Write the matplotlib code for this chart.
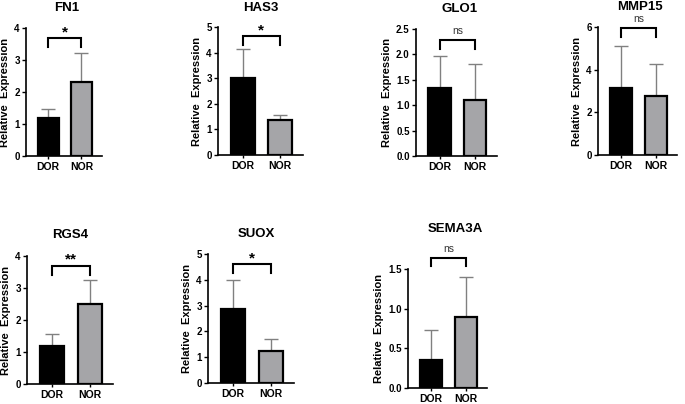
import numpy as np
import matplotlib.pyplot as plt

plt.rcParams['font.family'] = ['Liberation Sans', 'DejaVu Sans']
plt.rcParams['font.weight'] = 'bold'

groups = ['DOR', 'NOR']
genes = ['FN1', 'HAS3', 'GLO1', 'MMP15', 'RGS4', 'SUOX', 'SEMA3A']
means = {
    'FN1': [1.2, 2.3],
    'HAS3': [3.0, 1.35],
    'GLO1': [1.33, 1.1],
    'MMP15': [3.15, 2.75],
    'RGS4': [1.2, 2.5],
    'SUOX': [2.85, 1.25],
    'SEMA3A': [0.35, 0.9],
}
errs = {
    'FN1': [0.27, 0.92],
    'HAS3': [1.15, 0.23],
    'GLO1': [0.64, 0.72],
    'MMP15': [1.97, 1.52],
    'RGS4': [0.35, 0.75],
    'SUOX': [1.15, 0.47],
    'SEMA3A': [0.38, 0.5],
}
signif = {'FN1': '*', 'HAS3': '*', 'GLO1': 'ns', 'MMP15': 'ns',
          'RGS4': '**', 'SUOX': '*', 'SEMA3A': 'ns'}
bracket_y = {'FN1': 3.68, 'HAS3': 4.65, 'GLO1': 2.28, 'MMP15': 5.95,
             'RGS4': 3.7, 'SUOX': 4.6, 'SEMA3A': 1.64}
yticks = {
    'FN1': [0, 1, 2, 3, 4],
    'HAS3': [0, 1, 2, 3, 4, 5],
    'GLO1': [0.0, 0.5, 1.0, 1.5, 2.0, 2.5],
    'MMP15': [0, 2, 4, 6],
    'RGS4': [0, 1, 2, 3, 4],
    'SUOX': [0, 1, 2, 3, 4, 5],
    'SEMA3A': [0.0, 0.5, 1.0, 1.5],
}

# axes boxes in pixels: x0, x1, y_zero, y_top
W, H = 685, 404
boxes = {
    'FN1': (26, 102, 156, 28),
    'HAS3': (218, 303, 155, 27),
    'GLO1': (416, 497, 156, 29),
    'MMP15': (598, 677, 155, 27),
    'RGS4': (27, 113, 384, 256),
    'SUOX': (208, 294, 383, 254),
    'SEMA3A': (408, 487, 388, 269),
}
# title centres in pixels
title_xy = {'FN1': (67, 8), 'HAS3': (261, 8), 'GLO1': (460, 9), 'MMP15': (640, 7),
            'RGS4': (70, 235), 'SUOX': (256, 234), 'SEMA3A': (455, 229)}

fig = plt.figure(figsize=(W / 100, H / 100), dpi=100)
colors = ['black', '#a5a5a8']

for g in genes:
    x0, x1, yb, yt = boxes[g]
    ax = fig.add_axes([x0 / W, 1 - yb / H, (x1 - x0) / W, (yb - yt) / H])
    pos = np.arange(2)
    ax.bar(pos, means[g], width=0.64, color=colors, edgecolor='black', linewidth=1.6, zorder=2)
    ax.errorbar(pos, means[g], yerr=[[0, 0], errs[g]], fmt='none', ecolor='#808080',
                elinewidth=1, capsize=5, capthick=1, zorder=1, clip_on=False)
    ax.set_xlim(-0.67, 1.62)
    ticks = yticks[g]
    ax.set_ylim(0, ticks[-1])
    ax.set_yticks(ticks)
    if isinstance(ticks[0], float):
        ax.set_yticklabels(['%.1f' % t for t in ticks])
    ax.set_xticks(pos)
    ax.set_xticklabels(groups, fontsize=7.5, fontweight='bold')
    ax.tick_params(axis='y', labelsize=7, length=3, width=1, pad=1.5)
    ax.tick_params(axis='x', length=2.5, width=1, pad=1.5)
    for s in ['top', 'right']:
        ax.spines[s].set_visible(False)
    for s in ['left', 'bottom']:
        ax.spines[s].set_linewidth(1.2)
    ax.set_ylabel('Relative  Expression', fontsize=8, fontweight='bold', labelpad=3)

    # significance bracket
    top = ticks[-1]
    by = bracket_y[g]
    leg = 0.07 * top
    ax.plot([0, 0, 1, 1], [by - leg, by, by, by - leg], color='black', lw=1.5,
            clip_on=False, solid_joinstyle='miter')
    if signif[g] == 'ns':
        ax.text(0.5, by + 0.03 * top, 'ns', ha='center', va='bottom', fontsize=7.5,
                fontweight='normal', color='#333333')
    else:
        ax.text(0.5, by - 0.01 * top, signif[g], ha='center', va='bottom', fontsize=11,
                fontweight='bold')

    tx, ty = title_xy[g]
    fig.text(tx / W, 1 - ty / H, g, ha='center', va='center', fontsize=9.5, fontweight='bold')

fig.savefig('out.png', dpi=100)
